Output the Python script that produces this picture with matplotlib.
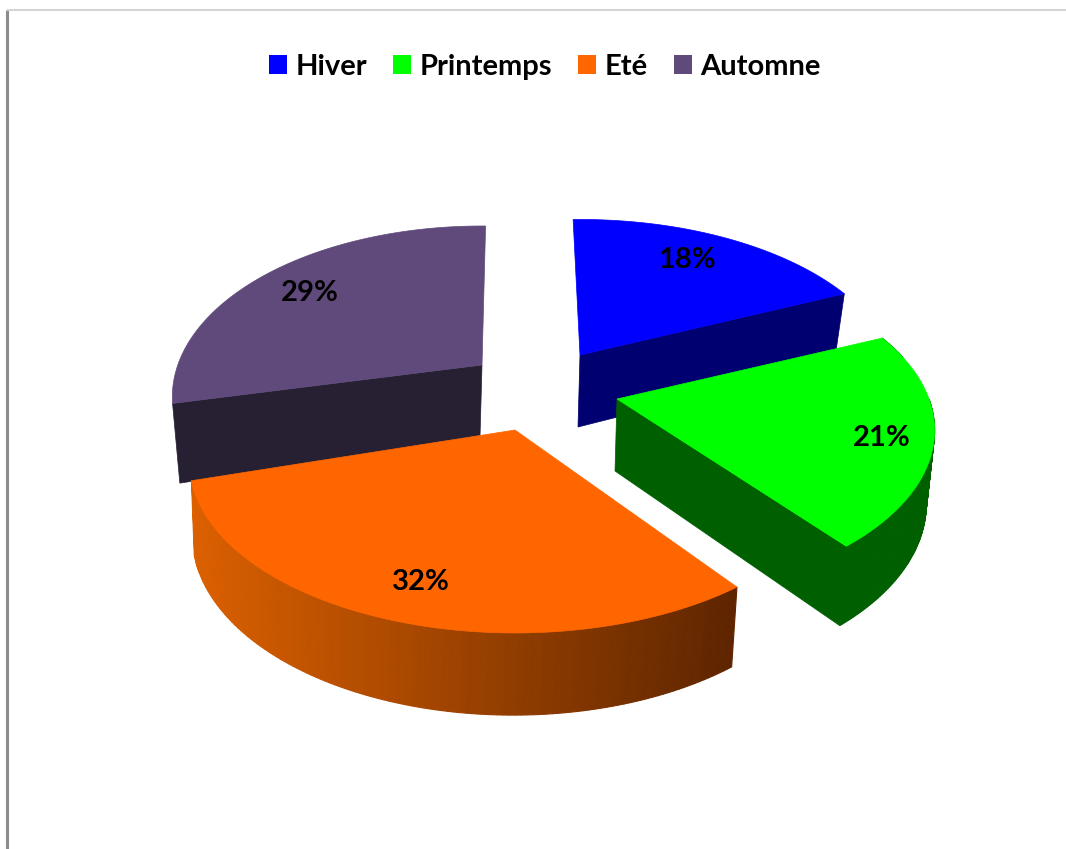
import matplotlib
matplotlib.use('Agg')
import matplotlib.pyplot as plt
from matplotlib.patches import Polygon, Patch
from matplotlib.colors import to_rgb
import numpy as np

seasons = ['Hiver', 'Printemps', 'Eté', 'Automne']
shares = [18, 21, 32, 29]
top_colors = ['#0000ff', '#00ff00', '#ff6600', '#604a7b']
side_colors = ['#000070', '#006000', '#ff6600', '#262032']

# layout, in pixels of the 1066x849 picture
apex = {'Hiver': (580, 355), 'Printemps': (617, 399), 'Eté': (515, 430), 'Automne': (482, 365)}
label_pos = {'Hiver': (687, 260), 'Printemps': (882, 438), 'Eté': (421, 582), 'Automne': (310, 293)}
# small turn of each slice's two cut edges (degrees), the source view is skewed
turn = {'Hiver': (-1.5, 1.0), 'Printemps': (1.3, 0.7), 'Eté': (3.5, -2.5), 'Automne': (1.5, 0.8)}
widen = {'Hiver': 1.0, 'Printemps': 1.0, 'Eté': 1.025, 'Automne': 0.975}
squash = {'Hiver': 0.975, 'Printemps': 0.98, 'Eté': 1.0, 'Automne': 1.0}
# how the lower rim of each slice is scaled against the top face
rim = {'Hiver': (0.97, 1.06), 'Printemps': (0.98, 1.05), 'Eté': (0.985, 1.05), 'Automne': (0.97, 1.2)}
A, B, C = 312., 165., 0.187  # ellipse half axes and perspective


def top_point(t, x0, y0, name):
    u, v = np.sin(t), np.cos(t)
    w = 1 + C * v
    return x0 + widen[name] * A * u / w, y0 - squash[name] * B * v / w


def bottom_point(t, x0, y0, name):
    x, y = top_point(t, 0, 0, name)
    return x0 - 2 + rim[name][0] * x, y0 + 72 + rim[name][1] * y


def mix(c1, c2, f):
    return tuple((1 - f) * np.array(to_rgb(c1)) + f * np.array(to_rgb(c2)))


figure = plt.figure(figsize=(10.66, 8.49), dpi=100)
axes = figure.add_axes([0, 0, 1, 1])
axes.set_xlim(0, 1066)
axes.set_ylim(849, 0)
axes.axis('off')

# scan frame left over in the source picture
axes.plot([7, 7], [10, 849], color='#8c8c8c', lw=2.2, solid_capstyle='butt')
axes.plot([7, 1066], [10, 10], color='#d4d4d4', lw=1.5, solid_capstyle='butt')

edges = np.cumsum([0] + shares) / sum(shares) * 2 * np.pi
order = ['Automne', 'Hiver', 'Printemps', 'Eté']

for name in order:
    i = seasons.index(name)
    t0 = edges[i] + np.radians(turn[name][0])
    t1 = edges[i + 1] + np.radians(turn[name][1])
    x0, y0 = apex[name]
    ts = np.linspace(t0, t1, 120)

    # flat cut wall: the far edge for Hiver and Printemps, the near one for Automne
    if name != 'Eté':
        t_cut = t0 if name == 'Automne' else t1
        wall = [(x0, y0), top_point(t_cut, x0, y0, name), bottom_point(t_cut, x0, y0, name), (x0 - 2, y0 + 72)]
        axes.add_patch(Polygon(wall, fc=side_colors[i], ec=side_colors[i], lw=0.5))

    # curved outer wall, one quad per step
    if name in ('Printemps', 'Eté'):
        for k in range(len(ts) - 1):
            if np.sin(ts[k]) > 0.96 and np.cos(ts[k]) > 0:
                continue
            quad = [top_point(ts[k], x0, y0, name), top_point(ts[k + 1], x0, y0, name),
                    bottom_point(ts[k + 1], x0, y0, name), bottom_point(ts[k], x0, y0, name)]
            if name == 'Eté':
                # shading runs from dark on the right to light on the left
                f = (quad[0][0] - 190) / (737 - 190)
                col = mix('#dc6000', '#5e2500', np.clip(f, 0, 1))
            else:
                col = side_colors[i]
            axes.add_patch(Polygon(quad, fc=col, ec=col, lw=0.8))

    # top face
    px, py = top_point(ts, x0, y0, name)
    face = np.column_stack([np.r_[x0, px], np.r_[y0, py]])
    axes.add_patch(Polygon(face, fc=top_colors[i], ec=top_colors[i], lw=0.5))

    axes.text(*label_pos[name], '%d%%' % shares[i], ha='center', va='center',
              fontsize=21, family='Lato', weight='bold', color='k')

handles = [Patch(fc=c, ec='none') for c in top_colors]
axes.legend(handles, seasons, loc='center', bbox_to_anchor=(545 / 1066, 1 - 67 / 849), ncol=4,
            frameon=False, handlelength=0.62, handleheight=0.62, handletextpad=0.3,
            columnspacing=0.88, borderpad=0, prop={'family': 'Lato', 'weight': 'bold', 'size': 21})

figure.savefig('out.png', dpi=100)
